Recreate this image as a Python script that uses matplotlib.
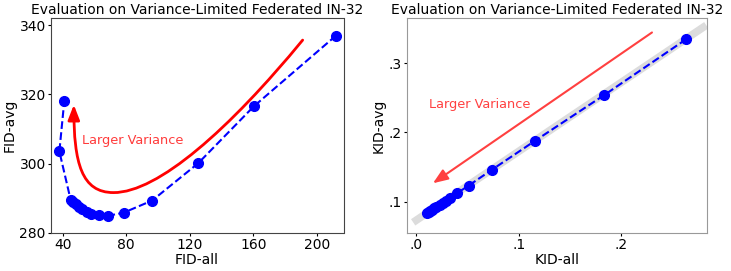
import matplotlib
matplotlib.use("Agg")
import matplotlib.pyplot as plt
from matplotlib.path import Path
from matplotlib.patches import FancyArrowPatch
from matplotlib.ticker import FuncFormatter

# FID results (left panel), in line order
fid_all = [212.0, 160.4, 125.3, 96.3, 78.4, 68.8, 62.8, 58.0, 55.0, 52.4, 50.3, 48.4, 46.7, 45.0, 37.9, 41.0]
fid_avg = [337.0, 316.6, 300.1, 289.3, 285.8, 284.9, 285.0, 285.4, 286.1, 286.9, 287.5, 288.2, 288.8, 289.5, 303.5, 318.1]

# KID results (right panel), in line order
kid_all = [0.2634, 0.1834, 0.1154, 0.0738, 0.0510, 0.0397, 0.0330, 0.0293, 0.0260, 0.0228,
           0.0195, 0.0175, 0.0155, 0.0138, 0.0122, 0.0107]
kid_avg = [0.3348, 0.2540, 0.1874, 0.1460, 0.1230, 0.1120, 0.1048, 0.1014, 0.0980, 0.0951,
           0.0917, 0.0900, 0.0880, 0.0866, 0.0852, 0.0838]

# y = x reference band on KID plot
band_x = [-0.003, 0.283]
band_y = [0.070, 0.355]

# "Larger Variance" curved arrow on FID plot (bezier control points)
curve_x = [191, 145, 100, 72, 52, 47, 47]
curve_y = [335.7, 310, 291.6, 291.6, 291.6, 300, 317]

# straight arrow on KID plot: start -> end
kid_arrow_start = (0.230, 0.3445)
kid_arrow_end = (0.0163, 0.1265)

fid_xticks = [40, 80, 120, 160, 200]
fid_yticks = [280, 300, 320, 340]
kid_xticks = [0.0, 0.1, 0.2]
kid_yticks = [0.1, 0.2, 0.3]

title = "Evaluation on Variance-Limited Federated IN-32"

fig = plt.figure(figsize=(7.31, 2.71), dpi=100)
ax1 = fig.add_axes([50.7 / 731, 38.3 / 271, 292.8 / 731, 214.4 / 271])
ax2 = fig.add_axes([406.7 / 731, 38.3 / 271, 300.0 / 731, 214.4 / 271])

# --- left: FID ---
ax1.plot(fid_all, fid_avg, '--', color='blue', lw=1.5, marker='o', markersize=7, zorder=3)
codes = [Path.MOVETO] + [Path.CURVE4] * 6
arrow = FancyArrowPatch(path=Path(list(zip(curve_x, curve_y)), codes),
                        arrowstyle='-|>,head_length=0.9,head_width=0.35',
                        mutation_scale=10, color='red', lw=2)
ax1.add_patch(arrow)
ax1.text(52.3, 306.6, "Larger Variance", color='#ff3b3b', fontsize=9.3, va='center')

ax1.set_xlim(32.45, 216.7)
ax1.set_ylim(280, 342)
ax1.set_xticks(fid_xticks)
ax1.set_yticks(fid_yticks)
ax1.set_xlabel("FID-all", fontsize=10, labelpad=1)
ax1.set_ylabel("FID-avg", fontsize=10, labelpad=2)
ax1.set_title(title, fontsize=10, pad=3)
for s in ax1.spines.values():
    s.set_color('#444444')

# --- right: KID ---
ax2.plot(band_x, band_y, color='#dcdcdc', lw=5.5, solid_capstyle='butt', zorder=1)
ax2.plot(kid_all, kid_avg, '--', color='blue', lw=1.5, marker='o', markersize=7, zorder=3)
ax2.annotate('', xy=kid_arrow_end, xytext=kid_arrow_start,
             arrowprops=dict(arrowstyle='-|>,head_length=0.9,head_width=0.35',
                             mutation_scale=10, color='#ff4040', lw=1.5,
                             shrinkA=0, shrinkB=0))
ax2.text(0.0121, 0.24, "Larger Variance", color='#ff4040', fontsize=9.3, va='center')

ax2.set_xlim(-0.0093, 0.2834)
ax2.set_ylim(0.055, 0.365)
ax2.set_xticks(kid_xticks)
ax2.set_yticks(kid_yticks)
strip0 = FuncFormatter(lambda v, p: f"{v:.1f}".lstrip('0'))
ax2.xaxis.set_major_formatter(strip0)
ax2.yaxis.set_major_formatter(strip0)
ax2.set_xlabel("KID-all", fontsize=10, labelpad=1)
ax2.set_ylabel("KID-avg", fontsize=10, labelpad=2)
ax2.set_title(title, fontsize=10, pad=3)
for s in ax2.spines.values():
    s.set_color('#999999')

for ax in (ax1, ax2):
    ax.tick_params(labelsize=10, length=2, width=0.8, pad=1.5)

fig.savefig("out.png", dpi=100)
